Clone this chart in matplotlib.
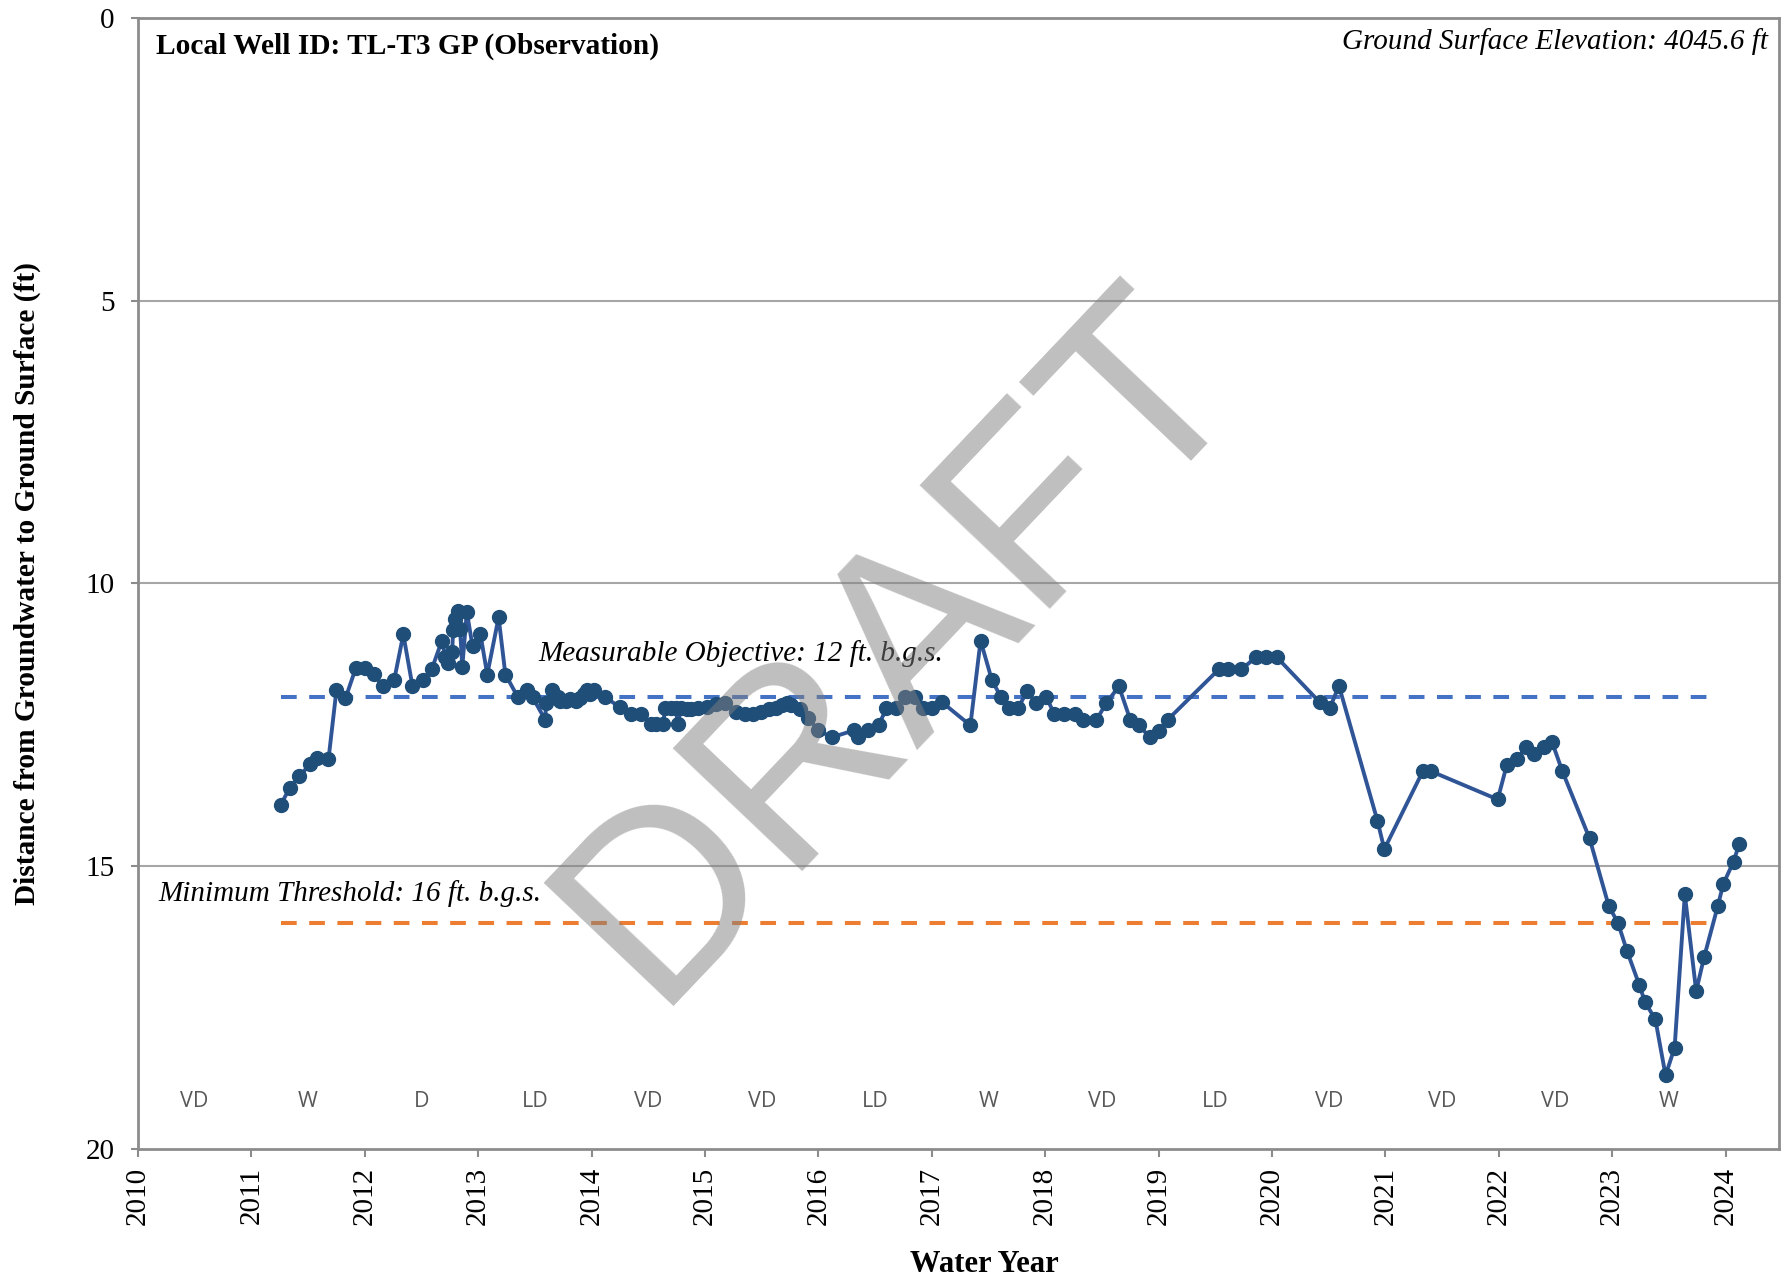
import matplotlib
matplotlib.use("Agg")
import matplotlib.pyplot as plt

# ---------------- data ----------------
water_year = [
    2011.26, 2011.34, 2011.42, 2011.52, 2011.58, 2011.68, 2011.75, 2011.83, 2011.92, 2012.00,
    2012.08, 2012.16, 2012.26, 2012.34, 2012.42, 2012.51, 2012.59, 2012.68, 2012.71, 2012.73,
    2012.77, 2012.78, 2012.80, 2012.82, 2012.84, 2012.86, 2012.90, 2012.95, 2013.02, 2013.08,
    2013.18, 2013.24, 2013.35, 2013.43, 2013.48, 2013.59, 2013.60, 2013.65, 2013.70, 2013.72,
    2013.77, 2013.81, 2013.86, 2013.90, 2013.93, 2013.96, 2013.99, 2014.02, 2014.12, 2014.25,
    2014.35, 2014.44, 2014.52, 2014.57, 2014.63, 2014.65, 2014.70, 2014.74, 2014.76, 2014.79,
    2014.84, 2014.88, 2014.94, 2015.02, 2015.10, 2015.18, 2015.27, 2015.35, 2015.42, 2015.49,
    2015.56, 2015.63, 2015.68, 2015.72, 2015.76, 2015.84, 2015.91, 2016.00, 2016.12, 2016.31,
    2016.35, 2016.44, 2016.53, 2016.60, 2016.68, 2016.76, 2016.85, 2016.92, 2017.00, 2017.09,
    2017.34, 2017.43, 2017.53, 2017.61, 2017.68, 2017.76, 2017.84, 2017.92, 2018.01, 2018.08,
    2018.17, 2018.26, 2018.33, 2018.45, 2018.54, 2018.65, 2018.75, 2018.83, 2018.92, 2019.00,
    2019.08, 2019.53, 2019.61, 2019.73, 2019.86, 2019.95, 2020.04, 2020.42, 2020.51, 2020.59,
    2020.93, 2020.99, 2021.33, 2021.40, 2021.99, 2022.07, 2022.16, 2022.24, 2022.31, 2022.40,
    2022.47, 2022.56, 2022.80, 2022.97, 2023.05, 2023.13, 2023.24, 2023.29, 2023.38, 2023.47,
    2023.55, 2023.64, 2023.74, 2023.81, 2023.93, 2023.98, 2024.07, 2024.12,
]
depth_ft = [
    13.91, 13.61, 13.41, 13.20, 13.08, 13.11, 11.89, 12.03, 11.50, 11.50,
    11.60, 11.82, 11.70, 10.90, 11.81, 11.70, 11.52, 11.01, 11.30, 11.41,
    11.21, 10.82, 10.62, 10.49, 10.80, 11.47, 10.50, 11.11, 10.90, 11.61,
    10.60, 11.61, 12.01, 11.89, 12.01, 12.41, 12.12, 11.89, 12.00, 12.07,
    12.07, 12.05, 12.07, 12.02, 11.95, 11.89, 11.95, 11.89, 12.01, 12.19,
    12.30, 12.30, 12.48, 12.48, 12.48, 12.20, 12.20, 12.20, 12.48, 12.20,
    12.22, 12.22, 12.20, 12.18, 12.14, 12.12, 12.28, 12.30, 12.30, 12.28,
    12.22, 12.20, 12.15, 12.12, 12.15, 12.22, 12.38, 12.60, 12.72, 12.60,
    12.72, 12.60, 12.51, 12.21, 12.21, 12.01, 12.01, 12.21, 12.21, 12.10,
    12.51, 11.01, 11.71, 12.01, 12.21, 12.21, 11.90, 12.12, 12.01, 12.31,
    12.31, 12.31, 12.42, 12.42, 12.11, 11.82, 12.41, 12.51, 12.72, 12.61,
    12.41, 11.52, 11.52, 11.52, 11.30, 11.30, 11.30, 12.10, 12.20, 11.81,
    14.20, 14.70, 13.32, 13.32, 13.82, 13.21, 13.11, 12.90, 13.01, 12.90,
    12.81, 13.32, 14.51, 15.71, 16.00, 16.50, 17.11, 17.41, 17.71, 18.70,
    18.21, 15.50, 17.21, 16.61, 15.71, 15.31, 14.92, 14.60,
]

mo_value = 12.0
mt_value = 16.0
threshold_span = [2011.26, 2023.92]

type_years = [2010, 2011, 2012, 2013, 2014, 2015, 2016, 2017, 2018, 2019, 2020, 2021, 2022, 2023]
type_labels = ["VD", "W", "D", "LD", "VD", "VD", "LD", "W", "VD", "LD", "VD", "VD", "VD", "W"]

year_ticks = list(range(2010, 2025))
depth_ticks = [0, 5, 10, 15, 20]

# ---------------- figure ----------------
serif = ["Liberation Serif", "DejaVu Serif"]
fig = plt.figure(figsize=(17.87, 12.81), dpi=100)
ax = fig.add_axes([0.0772, 0.1032, 0.9183, 0.8826])

grid_c = "#A6A6A6"
spine_c = "#8C8C8C"

ax.set_xlim(2010, 2024.47)
ax.set_ylim(20, 0)
ax.set_yticks(depth_ticks)
ax.set_xticks(year_ticks)
for y in [5, 10, 15]:
    ax.axhline(y, color=grid_c, lw=1.5, zorder=1)

for s in ax.spines.values():
    s.set_color(spine_c)
    s.set_linewidth(2)

ax.tick_params(axis="x", length=6, width=1.5, color=spine_c, pad=7,
               labelsize=21, labelrotation=90)
ax.tick_params(axis="y", length=5, width=1.5, color=spine_c, pad=12, labelsize=21)
for lab in ax.get_xticklabels() + ax.get_yticklabels():
    lab.set_fontfamily(serif)

# threshold lines
ax.plot(threshold_span, [mo_value, mo_value], color="#4472C4", lw=2.9,
        dashes=(3.9, 3.1), zorder=3)
ax.plot(threshold_span, [mt_value, mt_value], color="#ED7D31", lw=2.9,
        dashes=(3.9, 3.1), zorder=3)

# series
ax.plot(water_year, depth_ft, color="#2F5597", lw=2.8, zorder=4,
        marker="o", markersize=10, markerfacecolor="#1F4E79",
        markeredgecolor="#1F4E79")

# water year type labels
for yr, t in zip(type_years, type_labels):
    ax.text(yr + 0.5, 19.16, t, ha="center", va="center", fontsize=15.5,
            color="#595959", family=["Open Sans", "DejaVu Sans"])

# annotations
ax.text(2010.16, 0.5, "Local Well ID: TL-T3 GP (Observation)", ha="left", va="center",
        fontsize=21.2, fontweight="bold", family=serif)
ax.text(2024.37, 0.42, "Ground Surface Elevation: 4045.6 ft", ha="right", va="center",
        fontsize=21, fontstyle="italic", family=serif)
ax.text(2013.53, 11.24, "Measurable Objective: 12 ft. b.g.s.", ha="left", va="center",
        fontsize=21, fontstyle="italic", family=serif)
ax.text(2010.18, 15.49, "Minimum Threshold: 16 ft. b.g.s.", ha="left", va="center",
        fontsize=21, fontstyle="italic", family=serif)

# axis titles
fig.text(984 / 1787, 1 - 1265 / 1281, "Water Year", ha="center", va="center",
         fontsize=22, fontweight="bold", family=serif)
ax.set_ylabel("Distance from Groundwater to Ground Surface (ft)", fontsize=21.2,
              fontweight="bold", family=serif)
ax.yaxis.set_label_coords(-0.0592, 0.5)

# DRAFT watermark
fig.text(902 / 1787, 1 - 646 / 1281, "DRAFT", fontsize=187, color="#808080", alpha=0.5,
         rotation=46.5, ha="center", va="center", rotation_mode="anchor",
         family=["Liberation Sans", "DejaVu Sans"], zorder=10)

fig.savefig("out.png", dpi=100)
